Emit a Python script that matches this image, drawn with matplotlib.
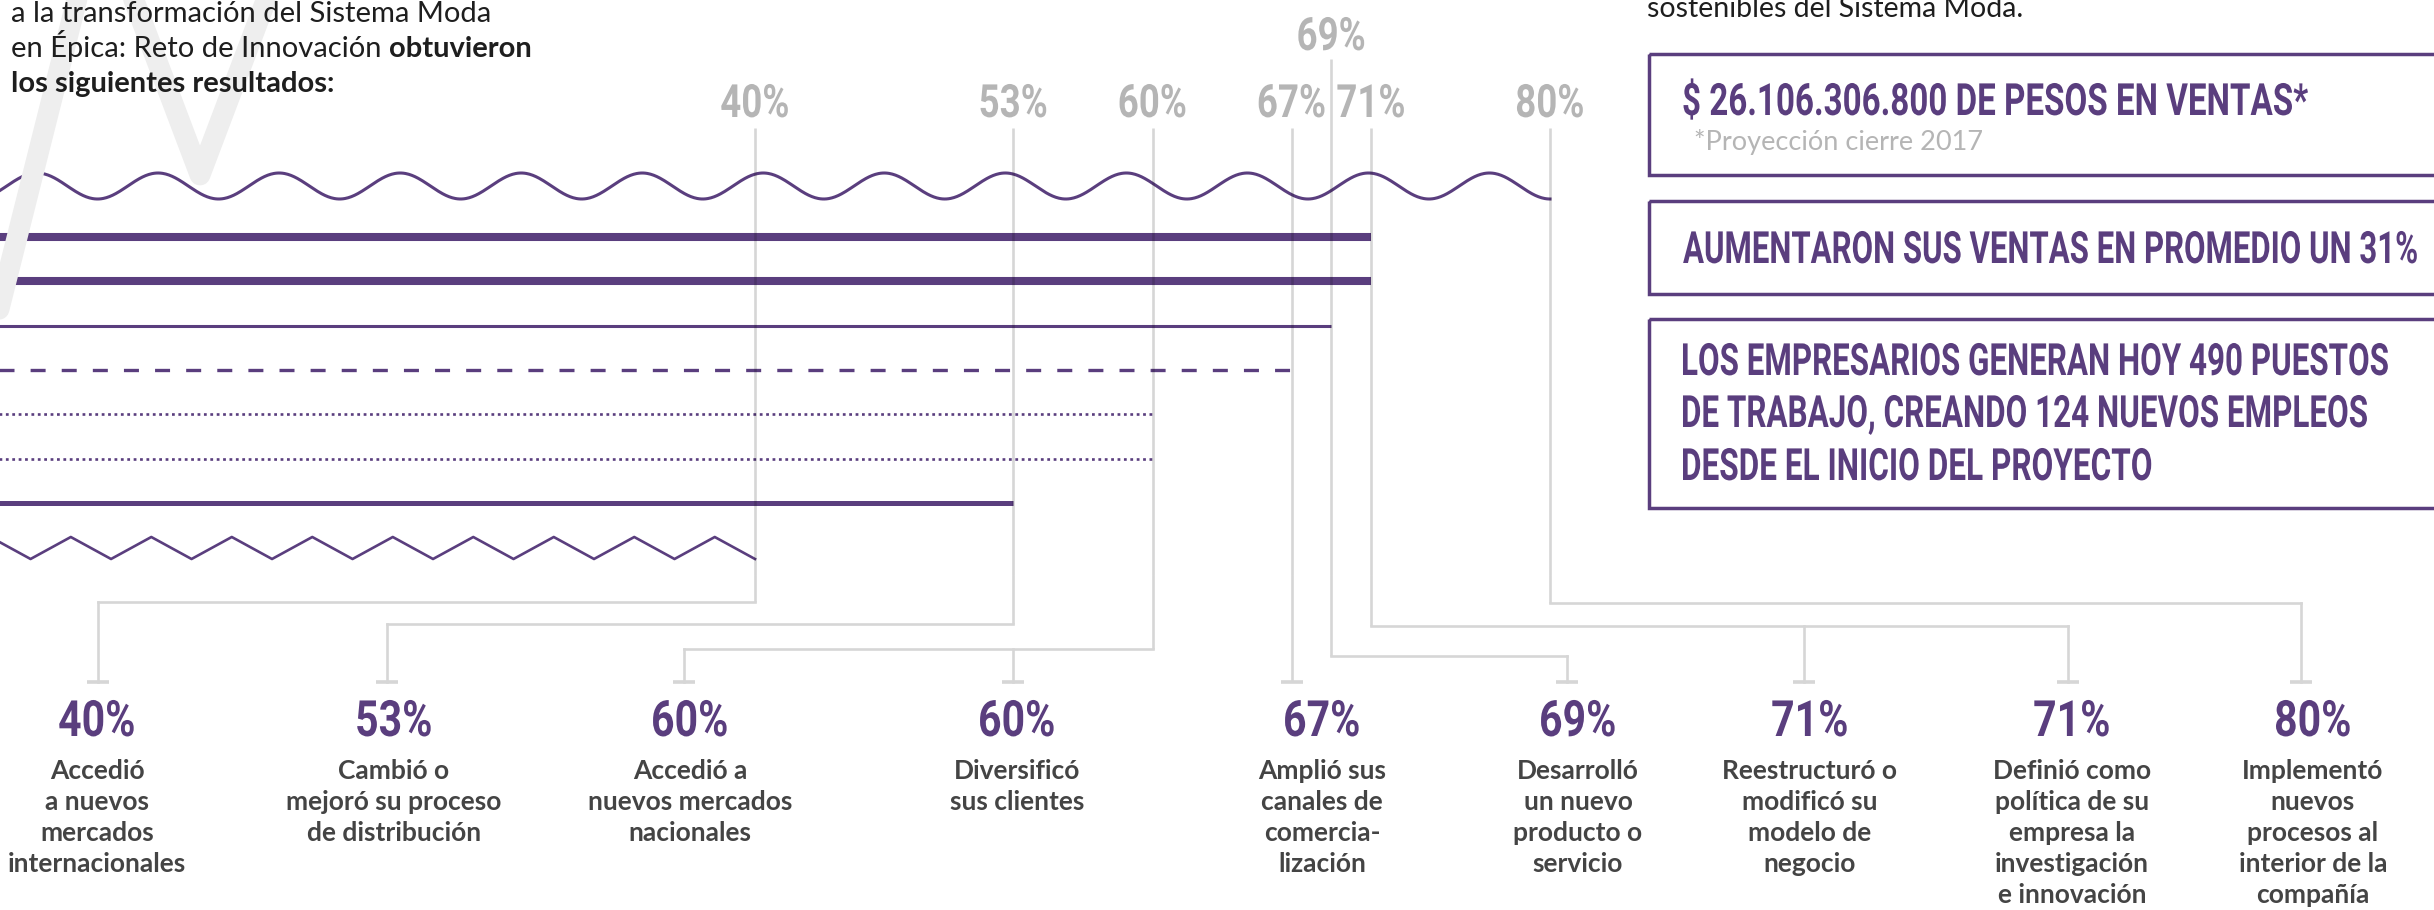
import numpy as np
import matplotlib
matplotlib.use("Agg")
import matplotlib.pyplot as plt
from matplotlib import patheffects
from matplotlib.patches import Rectangle
from matplotlib.text import Text
from matplotlib.transforms import Affine2D, Bbox

plt.rcParams["lines.scale_dashes"] = False
plt.rcParams["font.family"] = ["Lato", "DejaVu Sans"]

PURPLE = "#5a3e7e"
GRAY_TXT = "#b5b5b5"
GRAY_LINE = "#d6d6d6"
DARK = "#444444"
BLACK = "#1e1e1e"

# --- data ---
line_values = [80, 71, 71, 69, 67, 60, 60, 53, 40]
line_styles = ["wave", "thick", "thick", "thin", "dashed", "dotted", "dotted", "medium", "zigzag"]
scale_labels = [40, 53, 60, 67, 69, 71, 80]

result_values = [40, 53, 60, 60, 67, 69, 71, 71, 80]
result_labels = [
    "Accedió\na nuevos\nmercados\ninternacionales",
    "Cambió o\nmejoró su proceso\nde distribución",
    "Accedió a\nnuevos mercados\nnacionales",
    "Diversificó\nsus clientes",
    "Amplió sus\ncanales de\ncomercia-\nlización",
    "Desarrolló\nun nuevo\nproducto o\nservicio",
    "Reestructuró o\nmodificó su\nmodelo de\nnegocio",
    "Definió como\npolítica de su\nempresa la\ninvestigación\ne innovación",
    "Implementó\nnuevos\nprocesos al\ninterior de la\ncompañía",
]

intro_regular = ["a la transformación del Sistema Moda", "en Épica: Reto de Innovación"]
intro_bold = ["obtuvieron", "los siguientes resultados:"]
right_intro = "sostenibles del Sistema Moda."
headline_1 = "$ 26.106.306.800 DE PESOS EN VENTAS*"
footnote_1 = "*Proyección cierre 2017"
headline_2 = "AUMENTARON SUS VENTAS EN PROMEDIO UN 31%"
headline_3 = ["LOS EMPRESARIOS GENERAN HOY 490 PUESTOS",
              "DE TRABAJO, CREANDO 124 NUEVOS EMPLEOS",
              "DESDE EL INICIO DEL PROYECTO"]


class Squeeze(patheffects.AbstractPathEffect):
    """Draw glyphs narrower, like a condensed face."""
    def __init__(self, sx, anchor="center"):
        super().__init__()
        self.sx = sx
        self.anchor = anchor

    def draw_path(self, renderer, gc, tpath, affine, rgbFace=None):
        xs = tpath.vertices[:, 0]
        cx = 0.0
        if self.anchor == "center" and len(xs):
            cx = 0.5 * (xs.min() + xs.max())
        t = Affine2D().translate(-cx, 0).scale(self.sx, 1).translate(cx, 0) + affine
        renderer.draw_path(gc, tpath, t, rgbFace)


class NarrowText(Text):
    """Text drawn squeezed; its extent is squeezed the same way."""
    sx = 1.0

    def get_window_extent(self, renderer=None, dpi=None):
        bb = super().get_window_extent(renderer, dpi)
        ha = self.get_horizontalalignment()
        x0 = bb.x0 if ha == "left" else 0.5 * (bb.x0 + bb.x1)
        return Bbox.from_extents(x0 + (bb.x0 - x0) * self.sx, bb.y0,
                                 x0 + (bb.x1 - x0) * self.sx, bb.y1)


W, H = 2434, 910
fig = plt.figure(figsize=(W / 100, H / 100), dpi=100)
fig.patch.set_facecolor("white")
renderer = fig.canvas.get_renderer()

# percent axis: 0 % sits just left of the picture, 80 % at x=1550 px
ax = fig.add_axes([0, 0, 1, 1])
px_per_pct = 19.875
ax.set_xlim(40 / px_per_pct, (W + 40) / px_per_pct)
ax.set_ylim(H, 0)
ax.axis("off")

lay = fig.add_axes([0, 0, 1, 1])
lay.set_xlim(0, W)
lay.set_ylim(H, 0)
lay.axis("off")
lay.patch.set_alpha(0)


def value_px(v):
    disp = ax.transData.transform((v, 0))
    return lay.transData.inverted().transform(disp)[0]


def narrow(axis, x, y, s, sx=None, width=None, **kw):
    t = NarrowText(x, y, s, transform=axis.transData, **kw)
    axis.add_artist(t)
    if width is not None:
        sx = width / Text.get_window_extent(t, renderer).width
    t.sx = sx
    anchor = "left" if kw.get("ha", "left") == "left" else "center"
    t.set_path_effects([Squeeze(sx, anchor)])
    return t


COND = dict(family="Roboto", weight="bold")

# watermark strokes
lay.plot([-10, 78], [345, -5], color="#eeeeee", lw=15, solid_capstyle="round", zorder=0)
lay.plot([132, 200, 268], [-5, 175, -5], color="#eeeeee", lw=15,
         solid_capstyle="round", solid_joinstyle="round", zorder=0)

# horizontal lines
row_y = [186, 237, 281, 326, 370, 414, 459, 503, 548]
for v, st, y in zip(line_values, line_styles, row_y):
    if st == "wave":
        x = np.linspace(0, v, 1500)
        period = 6.09
        ax.plot(x, y + 13 * np.cos(2 * np.pi * (x - v) / period), color=PURPLE, lw=2.2, zorder=3)
    elif st == "zigzag":
        period = 4.05
        xs = np.arange(v, -period, -period / 2)[::-1]
        k = np.round((v - xs) / (period / 2)).astype(int)
        ys = np.where(k % 2 == 0, y + 11, y - 11)
        ax.plot(xs, ys, color=PURPLE, lw=1.9, zorder=3)
    else:
        kw = {"thick": dict(lw=5.8), "medium": dict(lw=3.6), "thin": dict(lw=2.2),
              "dashed": dict(lw=2.4, ls=(0, (10.8, 11.6))),
              "dotted": dict(lw=1.9, ls=(0, (2.0, 2.6)))}[st]
        ax.plot([0, v], [y, y], color=PURPLE, solid_capstyle="butt", dash_capstyle="butt",
                zorder=3, **kw)

# scale labels on top
for v in scale_labels:
    yb = 50 if v == 69 else 117
    narrow(ax, v, yb, f"{v}%", sx=0.8, ha="center", va="baseline", fontsize=33,
           color=GRAY_TXT, **COND)

# connectors: the part crossing the lines is a see-through grey, the rest plain grey
cap_x = [98, 387, 684, 1013, 1290, 1567, 1804, 2068, 2301]
elbow_y = {40: 602, 53: 624, 60: 649, 67: 682, 69: 656, 71: 626, 80: 603}
cap_y = 682
split_y = 575
for v in scale_labels:
    top = 59 if v == 69 else 128
    vx = value_px(v)
    ey = elbow_y[v]
    caps = [c for c, rv in zip(cap_x, result_values) if rv == v]
    lay.plot([vx, vx], [top, split_y], color="black", alpha=0.16, lw=1.9,
             solid_capstyle="butt", zorder=4)
    lay.plot([vx, vx], [split_y, ey], color=GRAY_LINE, lw=1.9, solid_capstyle="butt",
             zorder=2)
    far = max(caps, key=lambda c: abs(c - vx))
    if abs(far - vx) > 3:
        lay.plot([vx, far], [ey, ey], color=GRAY_LINE, lw=1.9, zorder=2)
    for c in caps:
        cx = c if abs(c - vx) > 3 else vx
        lay.plot([cx, cx], [ey, cap_y], color=GRAY_LINE, lw=1.9, zorder=2)
        lay.plot([cx - 11, cx + 11], [cap_y, cap_y], color=GRAY_LINE, lw=2.6,
                 solid_capstyle="butt", zorder=2)

# result cards
text_x = [97, 394, 690, 1017, 1322, 1578, 1810, 2072, 2313]
for v, lab, tx in zip(result_values, result_labels, text_x):
    narrow(lay, tx, 736, f"{v}%", sx=0.82, ha="center", va="baseline", fontsize=36,
           color=PURPLE, **COND)
    for i, line in enumerate(lab.split("\n")):
        lay.text(tx, 779 + 31 * i, line, ha="center", va="baseline", fontsize=19,
                 weight="bold", color=DARK)

# intro text, top left
fs = 21
lay.text(11, 22, intro_regular[0], fontsize=fs, color=BLACK, va="baseline")
t2 = lay.text(11, 57, intro_regular[1], fontsize=fs, color=BLACK, va="baseline")
w2 = t2.get_window_extent(renderer).width
lay.text(11 + w2 + 0.25 * fs * 100 / 72, 57, intro_bold[0], fontsize=fs, weight="bold",
         color=BLACK, va="baseline")
lay.text(11, 92, intro_bold[1], fontsize=fs, weight="bold", color=BLACK, va="baseline")

# right column
lay.text(1647, 17, right_intro, fontsize=20.5, color=BLACK, va="baseline")
boxes = [(54, 175), (201, 294), (319, 508)]
for top, bot in boxes:
    lay.add_patch(Rectangle((1649, top), 900, bot - top, fill=False, ec=PURPLE, lw=2.5,
                            zorder=4))
narrow(lay, 1682, 115, headline_1, width=628, fontsize=32, color=PURPLE, va="baseline",
       ha="left", **COND)
lay.text(1694, 150, footnote_1, fontsize=19.5, color=GRAY_TXT, va="baseline")
narrow(lay, 1683, 263, headline_2, width=737, fontsize=32, color=PURPLE, va="baseline",
       ha="left", **COND)
for line, yb, wd in zip(headline_3, [375, 427, 480], [710, 689, 473]):
    narrow(lay, 1681, yb, line, width=wd, fontsize=32, color=PURPLE, va="baseline",
           ha="left", **COND)

fig.savefig("out.png", dpi=100, facecolor="white")
